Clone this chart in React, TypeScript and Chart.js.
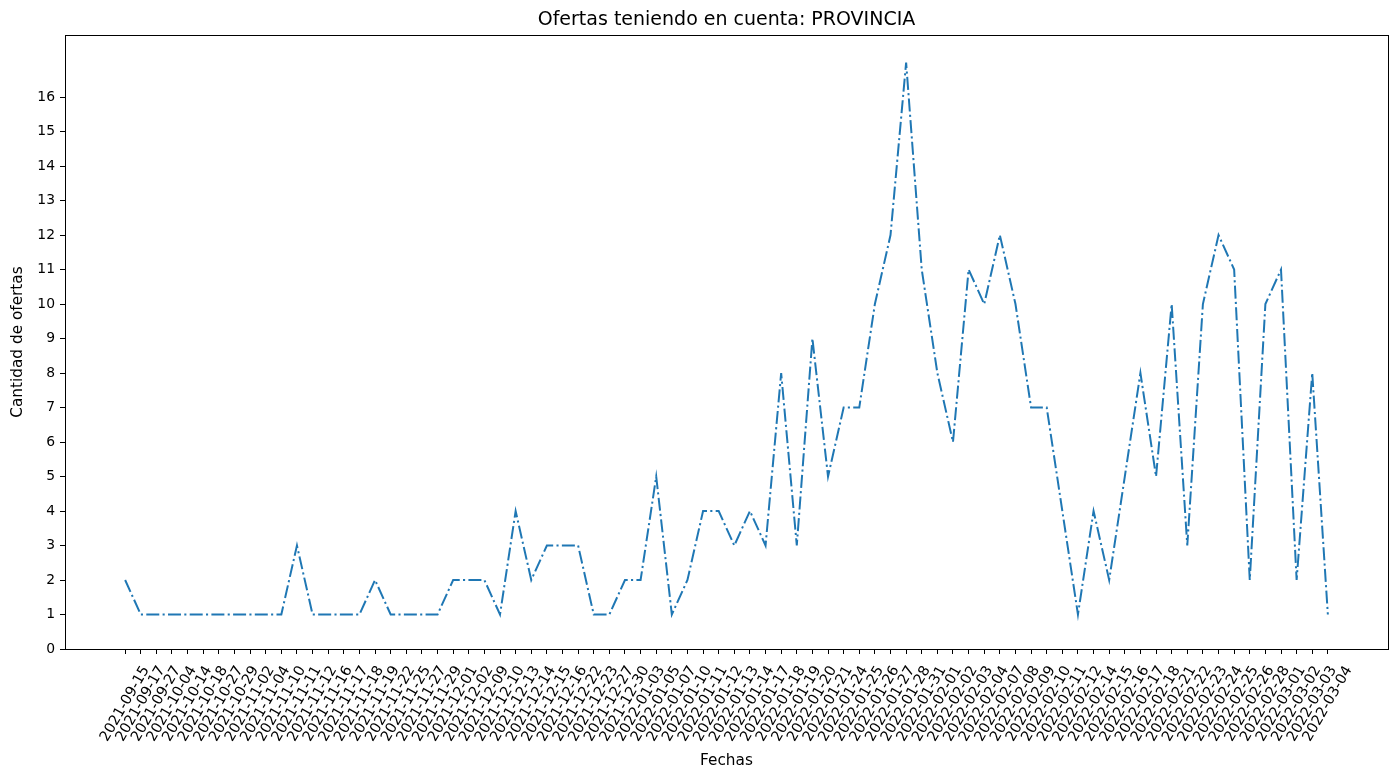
import React, { useEffect, useRef } from "react";
import { Chart, registerables } from "chart.js";

Chart.register(...registerables);

const fechas: string[] = [
  "2021-09-15", "2021-09-17", "2021-09-27",
  "2021-10-04", "2021-10-14", "2021-10-18", "2021-10-27", "2021-10-29",
  "2021-11-02", "2021-11-04", "2021-11-10", "2021-11-11", "2021-11-12", "2021-11-16", "2021-11-17",
  "2021-11-18", "2021-11-19", "2021-11-22", "2021-11-25", "2021-11-27", "2021-11-29",
  "2021-12-01", "2021-12-02", "2021-12-09", "2021-12-10", "2021-12-13", "2021-12-14", "2021-12-15",
  "2021-12-16", "2021-12-22", "2021-12-23", "2021-12-27", "2021-12-30",
  "2022-01-03", "2022-01-05", "2022-01-07", "2022-01-10", "2022-01-11", "2022-01-12", "2022-01-13",
  "2022-01-14", "2022-01-17", "2022-01-18", "2022-01-19", "2022-01-20", "2022-01-21", "2022-01-24",
  "2022-01-25", "2022-01-26", "2022-01-27", "2022-01-28", "2022-01-31",
  "2022-02-01", "2022-02-02", "2022-02-03", "2022-02-04", "2022-02-07", "2022-02-08", "2022-02-09",
  "2022-02-10", "2022-02-11", "2022-02-12", "2022-02-14", "2022-02-15", "2022-02-16", "2022-02-17",
  "2022-02-18", "2022-02-21", "2022-02-22", "2022-02-23", "2022-02-24", "2022-02-25", "2022-02-26",
  "2022-02-28", "2022-03-01", "2022-03-02", "2022-03-03", "2022-03-04",
];

const ofertas: number[] = [
  2, 1, 1, 1, 1, 1, 1, 1, 1, 1, 1, 3, 1, 1, 1, 1, 2, 1, 1, 1,
  1, 2, 2, 2, 1, 4, 2, 3, 3, 3, 1, 1, 2, 2, 5, 1, 2, 4, 4, 3,
  4, 3, 8, 3, 9, 5, 7, 7, 10, 12, 17, 11, 8, 6, 11, 10, 12, 10, 7, 7,
  4, 1, 4, 2, 5, 8, 5, 10, 3, 10, 12, 11, 2, 10, 11, 2, 8, 1,
];

const yTicks: number[] = [0, 1, 2, 3, 4, 5, 6, 7, 8, 9, 10, 11, 12, 13, 14, 15, 16];

const titulo = "Ofertas teniendo en cuenta: PROVINCIA";
const tituloX = "Fechas";
const tituloY = "Cantidad de ofertas";

const FONT = "'DejaVu Sans', sans-serif";

export default function App() {
  const ref = useRef<HTMLCanvasElement | null>(null);

  useEffect(() => {
    document.body.style.margin = "0";
    const canvas = ref.current;
    if (!canvas) return;
    const n = fechas.length;
    const margin = (n - 1) * 0.05;

    const frame = {
      id: "frame",
      afterDraw(chart: any) {
        const { ctx, chartArea } = chart;
        ctx.save();
        ctx.strokeStyle = "#000";
        ctx.lineWidth = 1;
        ctx.strokeRect(
          Math.round(chartArea.left) + 0.5,
          Math.round(chartArea.top) + 0.5,
          Math.round(chartArea.right - chartArea.left),
          Math.round(chartArea.bottom - chartArea.top)
        );
        ctx.restore();
      },
    };

    const chart = new Chart(canvas, {
      type: "line",
      data: {
        datasets: [
          {
            data: fechas.map((_, i) => ({ x: i, y: ofertas[i] })),
            borderColor: "#1f77b4",
            borderWidth: 2,
            borderDash: [13, 3.3, 2.1, 3.3],
            pointRadius: 0,
            tension: 0,
            fill: false,
          },
        ],
      },
      options: {
        animation: false,
        responsive: false,
        devicePixelRatio: 1,
        layout: { padding: { left: 0, right: 12, top: 0, bottom: 0 } },
        plugins: {
          legend: { display: false },
          tooltip: { enabled: false },
          title: {
            display: true,
            text: titulo,
            fullSize: false,
            color: "#000",
            font: { family: FONT, size: 19, weight: "normal" },
            padding: { top: 8.6, bottom: 3.6 },
          },
        },
        scales: {
          x: {
            type: "linear",
            min: -margin,
            max: n - 1 + margin,
            afterBuildTicks: (scale: any) => {
              scale.ticks = fechas.map((_, i) => ({ value: i }));
            },
            afterFit: (scale: any) => {
              scale.height = 133;
              scale.paddingLeft = 0;
              scale.paddingRight = 0;
            },
            ticks: {
              autoSkip: false,
              maxRotation: 60,
              minRotation: 60,
              labelOffset: 21,
              padding: 9,
              color: "#000",
              font: { family: FONT, size: 14.5 },
              callback: (v: any) => fechas[Math.round(Number(v))] ?? "",
            },
            grid: { drawOnChartArea: false, drawTicks: true, tickLength: 5, color: "#000", lineWidth: 1 },
            border: { display: true, color: "#000", width: 1 },
            title: {
              display: true,
              text: tituloX,
              color: "#000",
              font: { family: FONT, size: 15.3 },
              padding: { top: 0, bottom: 11.8 },
            },
          },
          y: {
            type: "linear",
            min: 0,
            max: 17.8,
            afterBuildTicks: (scale: any) => {
              scale.ticks = yTicks.map((v) => ({ value: v }));
            },
            afterFit: (scale: any) => {
              scale.width = 65;
              scale.paddingTop = 0;
              scale.paddingBottom = 0;
            },
            ticks: {
              padding: 5,
              color: "#000",
              font: { family: FONT, size: 13.9 },
              callback: (v: any) => String(v),
            },
            grid: { drawOnChartArea: false, drawTicks: true, tickLength: 5, color: "#000", lineWidth: 1 },
            border: { display: true, color: "#000", width: 1 },
            title: {
              display: true,
              text: tituloY,
              color: "#000",
              font: { family: FONT, size: 15.3 },
              padding: { top: 8.8, bottom: 0 },
            },
          },
        },
      },
      plugins: [frame],
    } as any);

    return () => chart.destroy();
  }, []);

  return (
    <div style={{ width: 1400, height: 782, background: "#fff" }}>
      <canvas ref={ref} width={1400} height={782} style={{ display: "block" }} />
    </div>
  );
}
